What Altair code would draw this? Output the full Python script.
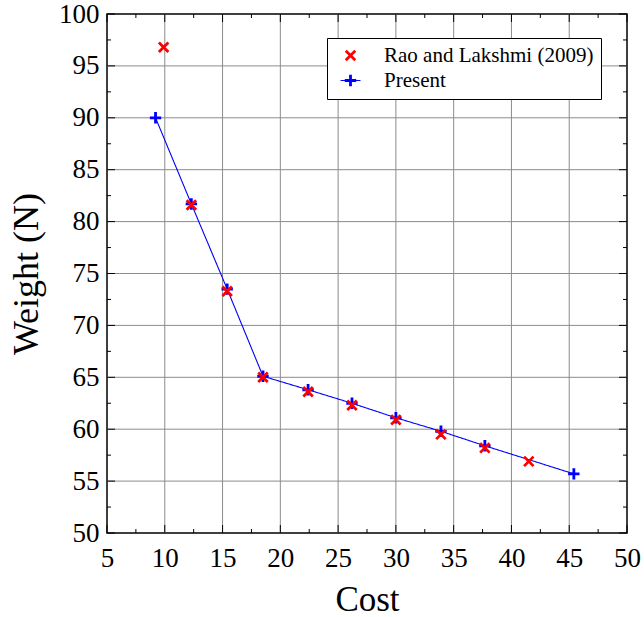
import altair as alt
import pandas as pd

# ---- data ----
rao_cost = [9.9, 12.3, 15.4, 18.5, 22.4, 26.2, 30.0, 33.9, 37.7, 41.5]
rao_weight = [96.8, 81.6, 73.3, 65.0, 63.6, 62.3, 60.9, 59.5, 58.2, 56.9]
present_cost = [9.2, 12.3, 15.4, 18.5, 22.4, 26.2, 30.0, 33.9, 37.7, 45.4]
present_weight = [90.0, 81.7, 73.5, 65.1, 63.8, 62.5, 61.1, 59.8, 58.4, 55.7]

x_ticks = [5, 10, 15, 20, 25, 30, 35, 40, 45, 50]
y_ticks = [50, 55, 60, 65, 70, 75, 80, 85, 90, 95, 100]
x_minor = [7.5, 12.5, 17.5, 22.5, 27.5, 32.5, 37.5, 42.5, 47.5]
y_minor = [52.5, 57.5, 62.5, 67.5, 72.5, 77.5, 82.5, 87.5, 92.5, 97.5]

RAO = "Rao and Lakshmi (2009)"
PRES = "Present"

W, H = 520, 519
FONT = "Liberation Serif"

df = pd.DataFrame({
    "cost": present_cost + rao_cost,
    "weight": present_weight + rao_weight,
    "series": [PRES] * len(present_cost) + [RAO] * len(rao_cost),
})
df["order"] = range(len(df))

xs = alt.Scale(domain=[5, 50], nice=False, zero=False)
ys = alt.Scale(domain=[50, 100], nice=False, zero=False)

x_axis = alt.Axis(values=x_ticks, ticks=False, domain=False, grid=False,
                  labelFont=FONT, labelFontSize=27, labelColor="black",
                  labelPadding=12, labelFlush=False, labelOverlap=False,
                  title="Cost", titleFont=FONT, titleFontSize=35,
                  titleFontWeight="normal", titleColor="black", titlePadding=11)
y_axis = alt.Axis(values=y_ticks, ticks=False, domain=False, grid=False,
                  labelFont=FONT, labelFontSize=27, labelColor="black",
                  labelPadding=8, labelFlush=False, labelOverlap=False,
                  title="Weight (N)", titleFont=FONT, titleFontSize=36,
                  titleFontWeight="normal", titleColor="black", titlePadding=13)

X_PATH = "M-1,-1L1,1M-1,1L1,-1"
PLUS_PATH = "M-1.2,0L1.2,0M0,-1.2L0,1.2"
LEG_LINE_PATH = "M-2.1,0L2.1,0"

GRID = "#8c8c8c"
BLUE = "#0000ff"
RED = "#ff0000"

# grid lines (interior majors)
grid_x = alt.Chart(pd.DataFrame({"v": x_ticks[1:-1]})).mark_rule(
    color=GRID, strokeWidth=1).encode(x=alt.X("v:Q", scale=xs, axis=x_axis))
grid_y = alt.Chart(pd.DataFrame({"v": y_ticks[1:-1]})).mark_rule(
    color=GRID, strokeWidth=1).encode(y=alt.Y("v:Q", scale=ys, axis=y_axis))


def xticks(vals, length):
    d = pd.DataFrame({"v": vals})
    b = alt.Chart(d).mark_rule(color="black", strokeWidth=1)
    bottom = b.encode(x=alt.X("v:Q", scale=xs, axis=x_axis),
                      y=alt.value(H), y2=alt.value(H - length))
    top = b.encode(x=alt.X("v:Q", scale=xs, axis=x_axis),
                   y=alt.value(0), y2=alt.value(length))
    return [bottom, top]


def yticks(vals, length):
    d = pd.DataFrame({"v": vals})
    b = alt.Chart(d).mark_rule(color="black", strokeWidth=1)
    left = b.encode(y=alt.Y("v:Q", scale=ys, axis=y_axis),
                    x=alt.value(0), x2=alt.value(length))
    right = b.encode(y=alt.Y("v:Q", scale=ys, axis=y_axis),
                     x=alt.value(W), x2=alt.value(W - length))
    return [left, right]


tick_layers = xticks(x_ticks, 8) + xticks(x_minor, 4) + yticks(y_ticks, 8) + yticks(y_minor, 4)

LEG_X, LEG_Y = 220, 24
common_leg = dict(title=None, orient="none", legendX=LEG_X, legendY=LEG_Y, padding=7,
                  labelFont=FONT, labelFontSize=21, symbolSize=90, symbolOffset=6,
                  labelOffset=23, rowPadding=3, labelLimit=400)

# line legend overlay (draws the line segment through the "+" legend symbol)
line_legend = alt.Legend(**common_leg, labelOpacity=0, labelExpr="'\u00a0'",
                         symbolType=LEG_LINE_PATH,
                         symbolStrokeColor=BLUE, symbolStrokeWidth=1.1, zindex=2)

line = alt.Chart(df).transform_filter(alt.datum.series == PRES).transform_calculate(
    series2="datum.series + ' '").mark_line(color=BLUE, strokeWidth=1.1).encode(
    x=alt.X("cost:Q", scale=xs, axis=x_axis),
    y=alt.Y("weight:Q", scale=ys, axis=y_axis),
    strokeDash=alt.StrokeDash("series2:N",
                              scale=alt.Scale(domain=[RAO + " ", PRES + " "], range=[[0, 100], [1, 0]]),
                              legend=line_legend),
)

legend = alt.Legend(**common_leg, strokeColor="black", fillColor="white",
                    labelColor="black", symbolStrokeWidth=2.8, zindex=1)

points = alt.Chart(df).mark_point(filled=False, strokeWidth=2.8, size=90, opacity=1).encode(
    x=alt.X("cost:Q", scale=xs, axis=x_axis),
    y=alt.Y("weight:Q", scale=ys, axis=y_axis),
    color=alt.Color("series:N", scale=alt.Scale(domain=[RAO, PRES], range=[RED, BLUE]),
                    legend=legend),
    shape=alt.Shape("series:N", scale=alt.Scale(domain=[RAO, PRES], range=[X_PATH, PLUS_PATH]),
                    legend=legend),
    order=alt.Order("order:Q"),
)

chart = alt.layer(grid_x, grid_y, *tick_layers, line, points).properties(
    width=W, height=H,
    padding={"left": 107, "top": 14, "right": 17, "bottom": 84},
    autosize=alt.AutoSizeParams(type="none"),
    background="white",
).configure_view(stroke="black", strokeWidth=1.5)

chart.save("out.html", embed_options={"renderer": "svg", "actions": False})
